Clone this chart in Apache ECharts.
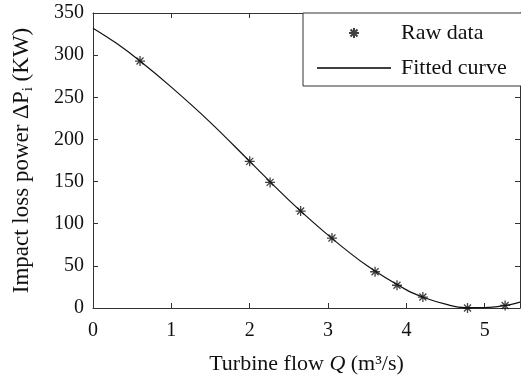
<!DOCTYPE html>
<html>
<head>
<meta charset="utf-8">
<script src="https://cdn.jsdelivr.net/npm/echarts@6/dist/echarts.min.js"></script>
<style>
  html, body { margin: 0; padding: 0; background: #fff; }
  #main { width: 521px; height: 383px; }
</style>
</head>
<body>
<div id="main"></div>
<script>
// raw measurements (flow Q, loss power)
const rawQ = [0.60, 2.00, 2.26, 2.65, 3.05, 3.60, 3.88, 4.21, 4.78, 5.26];
const rawP = [293, 174, 149, 115, 83, 43, 27, 13, 0, 3];

// fitted curve
const fitQ = [0, 0.3, 0.6, 1, 1.5, 2, 2.5, 3, 3.5, 4, 4.25, 4.5, 4.75, 5, 5.25, 5.45];
const fitP = [332, 314, 293, 262, 220, 174, 128, 86.5, 50, 21.5, 11.5, 4.5, 0.5, 0.5, 2.8, 7];

const font = 'Liberation Serif';
const axisColor = '#333';

const starPath = 'path://M0,5L10,5M5,0L5,10M1.5,1.5L8.5,8.5M1.5,8.5L8.5,1.5';
const linePath = 'path://M0,0L72,0L72,1.6L0,1.6Z';

var chartDom = document.getElementById('main');
var myChart = echarts.init(chartDom);

var option = {
    backgroundColor: '#fff',
    animation: false,
    textStyle: { fontFamily: font },
    grid: { left: 92, right: 1, top: 13, bottom: 75 },
    legend: {
        left: 303,
        top: 13,
        orient: 'vertical',
        padding: [9, 40, 7, 14],
        itemGap: 13,
        itemWidth: 74,
        itemHeight: 10,
        borderColor: axisColor,
        borderWidth: 1,
        backgroundColor: '#fff',
        textStyle: { fontFamily: font, fontSize: 22, lineHeight: 22, color: '#111', padding: [0, 0, 0, 5] },
        data: [
            { name: 'Raw data' },
            { name: 'Fitted curve', icon: linePath, itemStyle: { color: '#000' } }
        ]
    },
    xAxis: [
        {
            type: 'value',
            min: 0,
            max: 5.45,
            interval: 1,
            name: 'Turbine flow {it|Q} (m³/s)',
            nameLocation: 'middle',
            nameGap: 45,
            nameTextStyle: {
                fontFamily: font, fontSize: 22, color: '#111',
                rich: { it: { fontFamily: font, fontSize: 22, fontStyle: 'italic', color: '#111' } }
            },
            axisLine: { lineStyle: { color: axisColor } },
            axisTick: { inside: true, length: 5, lineStyle: { color: axisColor } },
            axisLabel: { fontFamily: font, fontSize: 20, color: '#111', margin: 13, showMaxLabel: false },
            splitLine: { show: false }
        },
        {
            type: 'value',
            position: 'top',
            min: 0,
            max: 5.45,
            interval: 1,
            axisLine: { onZero: false, lineStyle: { color: axisColor } },
            axisTick: { inside: true, length: 5, lineStyle: { color: axisColor } },
            axisLabel: { show: false },
            splitLine: { show: false }
        }
    ],
    yAxis: [
        {
            type: 'value',
            min: 0,
            max: 350,
            interval: 50,
            name: 'Impact loss power ΔP{sub|i} (KW)',
            nameLocation: 'middle',
            nameGap: 57,
            nameTextStyle: {
                fontFamily: font, fontSize: 23, color: '#111', lineHeight: 28,
                rich: { sub: { fontFamily: font, fontSize: 15, color: '#111', verticalAlign: 'bottom', lineHeight: 28 } }
            },
            axisLine: { show: true, lineStyle: { color: axisColor } },
            axisTick: { inside: true, length: 5, lineStyle: { color: axisColor } },
            axisLabel: { fontFamily: font, fontSize: 20, color: '#111', margin: 9 },
            splitLine: { show: false }
        },
        {
            type: 'value',
            position: 'right',
            min: 0,
            max: 350,
            interval: 50,
            axisLine: { show: true, onZero: false, lineStyle: { color: axisColor } },
            axisTick: { inside: true, length: 5, lineStyle: { color: axisColor } },
            axisLabel: { show: false },
            splitLine: { show: false }
        }
    ],
    series: [
        {
            name: 'Fitted curve',
            type: 'line',
            xAxisIndex: 0,
            yAxisIndex: 0,
            data: fitQ.map((q, i) => [q, fitP[i]]),
            smooth: 0.4,
            symbol: 'none',
            lineStyle: { color: '#111', width: 1.2 },
            itemStyle: { color: '#111' },
            z: 2
        },
        {
            name: 'Raw data',
            type: 'scatter',
            xAxisIndex: 0,
            yAxisIndex: 0,
            data: rawQ.map((q, i) => [q, rawP[i]]),
            symbol: starPath,
            symbolSize: 10,
            itemStyle: { color: 'none', borderColor: '#111', borderWidth: 1.3 },
            z: 3
        }
    ]
};

option && myChart.setOption(option);
</script>
</body>
</html>
